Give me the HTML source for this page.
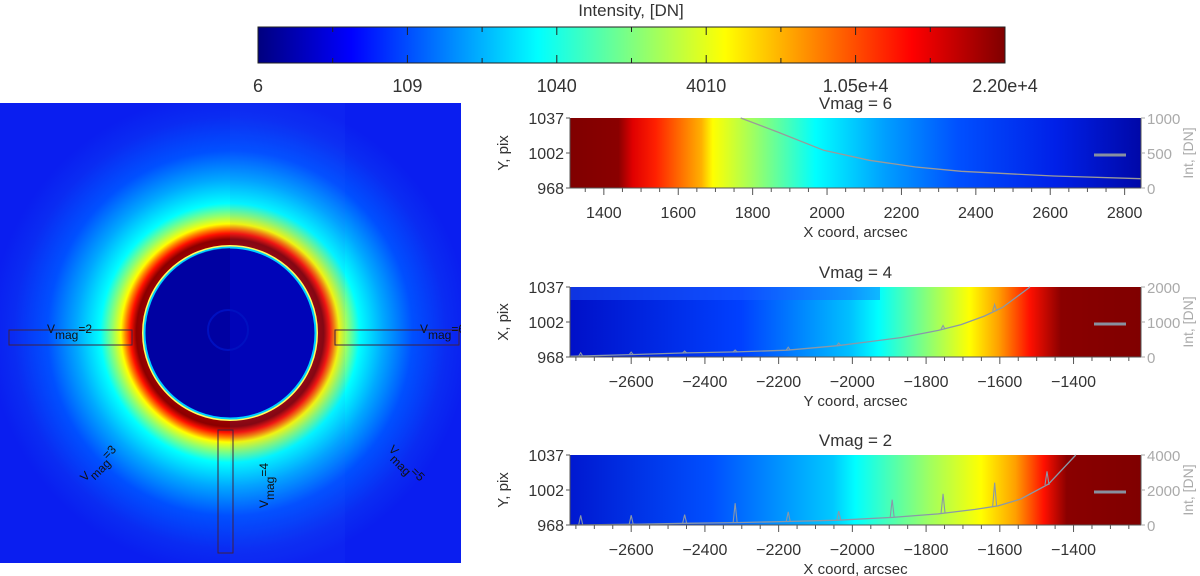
<!DOCTYPE html>
<html><head><meta charset="utf-8"><style>
html,body{margin:0;padding:0;background:#fff;}
svg{display:block;font-family:"Liberation Sans",sans-serif;}
</style></head><body>
<svg id="fig" width="1200" height="576" viewBox="0 0 1200 576">
<defs>
<linearGradient id="jet" x1="0" x2="1" y1="0" y2="0">
<stop offset="0" stop-color="#00007f"/><stop offset="0.125" stop-color="#0000ff"/><stop offset="0.375" stop-color="#00ffff"/><stop offset="0.625" stop-color="#ffff00"/><stop offset="0.875" stop-color="#ff0000"/><stop offset="1" stop-color="#7f0000"/>
</linearGradient>
<linearGradient id="g1" gradientUnits="userSpaceOnUse" x1="570" x2="1141" y1="0" y2="0">
<stop offset="0" stop-color="#800000"/><stop offset="0.085" stop-color="#8a0000"/><stop offset="0.11" stop-color="#e00000"/><stop offset="0.15" stop-color="#ff2000"/><stop offset="0.23" stop-color="#ffb000"/><stop offset="0.25" stop-color="#ffff00"/><stop offset="0.32" stop-color="#a0ff60"/><stop offset="0.43" stop-color="#00ffff"/><stop offset="0.55" stop-color="#00a0ff"/><stop offset="0.68" stop-color="#0050ff"/><stop offset="0.85" stop-color="#0020e8"/><stop offset="1" stop-color="#0008a8"/>
</linearGradient>
<linearGradient id="g2" gradientUnits="userSpaceOnUse" x1="570" x2="1141" y1="0" y2="0">
<stop offset="0" stop-color="#0010c8"/><stop offset="0.3" stop-color="#0040ff"/><stop offset="0.49" stop-color="#00c0ff"/><stop offset="0.54" stop-color="#00ffff"/><stop offset="0.64" stop-color="#a0ff60"/><stop offset="0.70" stop-color="#ffff00"/><stop offset="0.75" stop-color="#ffa000"/><stop offset="0.805" stop-color="#ff1000"/><stop offset="0.86" stop-color="#8a0000"/><stop offset="1" stop-color="#800000"/>
</linearGradient>
<linearGradient id="g3" gradientUnits="userSpaceOnUse" x1="570" x2="1141" y1="0" y2="0">
<stop offset="0" stop-color="#0018d0"/><stop offset="0.25" stop-color="#0050ff"/><stop offset="0.46" stop-color="#00c8ff"/><stop offset="0.5" stop-color="#00ffff"/><stop offset="0.63" stop-color="#a0ff60"/><stop offset="0.72" stop-color="#ffff00"/><stop offset="0.78" stop-color="#ffa000"/><stop offset="0.83" stop-color="#ff1000"/><stop offset="0.87" stop-color="#8a0000"/><stop offset="1" stop-color="#800000"/>
</linearGradient>
<radialGradient id="corona" gradientUnits="userSpaceOnUse" cx="230" cy="333" r="240">
<stop offset="0" stop-color="#0000a0"/><stop offset="0.355" stop-color="#a00000"/><stop offset="0.39" stop-color="#8a0000"/><stop offset="0.415" stop-color="#ff1000"/><stop offset="0.435" stop-color="#ff8000"/><stop offset="0.455" stop-color="#ffff00"/><stop offset="0.49" stop-color="#90ff70"/><stop offset="0.54" stop-color="#00ffff"/><stop offset="0.64" stop-color="#00a8ff"/><stop offset="0.76" stop-color="#0050ff"/><stop offset="0.9" stop-color="#0a2cf2"/><stop offset="1" stop-color="#0a1ef0"/>
</radialGradient>
<clipPath id="imgclip"><rect x="0" y="103" width="461" height="460"/></clipPath>
</defs>

<g>
<text x="631" y="16" text-anchor="middle" font-size="17" fill="#333">Intensity, [DN]</text>
<rect x="258" y="27" width="747" height="36" fill="url(#jet)" stroke="#222" stroke-width="1"/>
<g id="cbticks"></g>
</g>

<g clip-path="url(#imgclip)">
<rect x="0" y="103" width="461" height="460" fill="url(#corona)"/>
<rect x="230" y="103" width="115" height="460" fill="#3060ff" opacity="0.08"/>
<circle cx="230" cy="333" r="87" fill="none" stroke="#ffff60" stroke-width="2"/>
<circle cx="230" cy="333" r="85.5" fill="#0004b8" stroke="#00d0ff" stroke-width="2"/>
<path d="M230,248 A84,84 0 0 0 230,417 Z" fill="#000090" opacity="0.55"/>
<circle cx="228" cy="330" r="20" fill="none" stroke="#0010c0" stroke-width="2"/>
<rect x="9" y="330" width="123" height="15" fill="none" stroke="#402040" stroke-width="1"/>
<rect x="335" y="330" width="124" height="15" fill="none" stroke="#402040" stroke-width="1"/>
<rect x="218" y="430" width="15" height="123" fill="none" stroke="#402040" stroke-width="1"/>
<g font-size="12" fill="#111">
<text x="47" y="333">V<tspan dy="6" font-size="12">mag</tspan><tspan dy="-6">=2</tspan></text>
<text x="420" y="333">V<tspan dy="6">mag</tspan><tspan dy="-6">=6</tspan></text>
<text transform="translate(85,482) rotate(-45)">V<tspan dy="6">mag</tspan><tspan dy="-6">=3</tspan></text>
<text transform="translate(268,508) rotate(-90)">V<tspan dy="6">mag</tspan><tspan dy="-6">=4</tspan></text>
<text transform="translate(388,450) rotate(45)">V<tspan dy="6">mag</tspan><tspan dy="-6">=5</tspan></text>
</g>
</g>

<g id="panels"></g>
</svg>
<script>
const cbLabels = ["6","109","1040","4010","1.05e+4","2.20e+4"];

const p1X = [1768,1867,1991,2114,2238,2361,2485,2609,2843];
const p1Y = [1000,800,538,395,300,238,205,171,133];
const p1Ticks = [1400,1600,1800,2000,2200,2400,2600,2800];
const p2X = [-2765,-2600,-2451,-2314,-2177,-2040,-1953,-1866,-1767,-1705,-1642,-1593,-1518];
const p2Y = [20,68,117,146,195,322,439,556,761,927,1170,1415,2000];
const p2SpikeX = [-2737,-2600,-2455,-2318,-2174,-2037,-1754,-1614];
const p2SpikeY = [120,140,170,200,280,400,900,1500];
const p2Ticks = [-2600,-2400,-2200,-2000,-1800,-1600,-1400];
const p3X = [-2765,-2600,-2451,-2314,-2177,-2040,-1891,-1767,-1667,-1605,-1543,-1468,-1394];
const p3Y = [0,40,99,139,198,277,436,634,891,1089,1485,2337,4000];
const p3SpikeX = [-2737,-2600,-2455,-2318,-2174,-2037,-1892,-1754,-1614,-1472];
const p3SpikeY = [554,554,594,1248,752,792,1446,1782,2416,3069];
const p3Ticks = [-2600,-2400,-2200,-2000,-1800,-1600,-1400];
const yPixTicks = ["1037","1002","968"];

const NS = "http://www.w3.org/2000/svg";
function mk(tag, attrs, parent){const e=document.createElementNS(NS,tag);for(const k in attrs)e.setAttribute(k,attrs[k]);parent.appendChild(e);return e;}

const cbg = document.getElementById('cbticks');
cbLabels.forEach((l,i)=>{
  const x = 258 + i*747/(cbLabels.length-1);
  const t = mk('text',{x:x,y:92,'text-anchor':'middle','font-size':18,fill:'#333'},cbg);
  
  
  t.textContent = l;
});
for(let i=0;i<=10;i++){
  const x = 258 + i*747/10;
  const len = i%2===0 ? 8 : 5;
  const a = mk('line',{x1:x,x2:x,y1:27,y2:27+len,stroke:'#222'},cbg);
  
  
  const b = mk('line',{x1:x,x2:x,y1:63,y2:63-len,stroke:'#222'},cbg);
  
  
}

const panels = document.getElementById('panels');
function drawPanel(o){
  const L=570,R=1141,T=o.top,B=o.top+70;
  const g = mk('g',{},panels);
  
  
  const sx = v => L + (v - o.xmin)/(o.xmax-o.xmin)*(R-L);
  const sy = v => B - v/o.ymax*(B-T);
  const t = mk('text',{x:(L+R)/2,y:T-9,'text-anchor':'middle','font-size':17,fill:'#333'},g);
  
  
  t.textContent = o.title;
  const r = mk('rect',{x:L,y:T,width:R-L,height:B-T,fill:o.fill},g);
  
  
  if(o.band){
    const b = mk('rect',{x:L,y:T,width:310,height:13,fill:'#2060ff',opacity:0.45},g);
    
    
  }
  let d='';
  o.xs.forEach((x,i)=>{d+=(i?'L':'M')+sx(x).toFixed(1)+','+Math.max(T,sy(o.ys[i])).toFixed(1);});
  const p = mk('path',{d:d,fill:'none',stroke:o.lc,'stroke-width':1.3},g);
  
  
  if(o.spx){
    o.spx.forEach((x,i)=>{
      let base=0;
      for(let k=1;k<o.xs.length;k++){ if(x<=o.xs[k]){const f=(x-o.xs[k-1])/(o.xs[k]-o.xs[k-1]); base=o.ys[k-1]+f*(o.ys[k]-o.ys[k-1]); break;} }
      const px=sx(x);
      const s = mk('path',{d:`M${px-2},${sy(base)} L${px},${sy(o.spy[i])} L${px+2},${sy(base)}`,fill:'none',stroke:o.lc,'stroke-width':1.1},g);
      
      
    });
  }
  const leg = mk('line',{x1:1094,x2:1126,y1:(T+B)/2+2,y2:(T+B)/2+2,stroke:'#8890a0','stroke-width':3},g);
  
  
  const ax = mk('path',{d:`M${L},${T} L${L},${B} L${R},${B} L${R},${T}`,fill:'none',stroke:'#555','stroke-width':1},g);
  
  
  const step=(o.ticks[1]-o.ticks[0])/4;
  for(let v=o.ticks[0]-step*4; v<=o.xmax; v+=step){
    if(v<o.xmin) continue;
    const major = o.ticks.includes(Math.round(v));
    const tk = mk('line',{x1:sx(v),x2:sx(v),y1:B,y2:B+(major?7:4),stroke:'#555'},g);
    
    
  }
  o.ticks.forEach(v=>{
    const tl = mk('text',{x:sx(v),y:B+30,'text-anchor':'middle','font-size':16,fill:'#333'},g);
    
    
    tl.textContent = String(v).replace('-','\u2212');
  });
  const xt = mk('text',{x:(L+R)/2,y:B+49,'text-anchor':'middle','font-size':15,fill:'#333'},g);
  
  
  xt.textContent = o.xtitle;
  yPixTicks.forEach((l,i)=>{
    const y = T + i*(B-T)/2;
    const tl = mk('text',{x:L-6,y:y+6,'text-anchor':'end','font-size':16,fill:'#333'},g);
    
    
    tl.textContent = l;
    const tk = mk('line',{x1:L-4,x2:L,y1:y,y2:y,stroke:'#555'},g);
    
    
  });
  const yt = mk('text',{transform:`translate(${L-62},${(T+B)/2}) rotate(-90)`,'text-anchor':'middle','font-size':15,fill:'#333'},g);
  
  
  yt.textContent = o.ytitle;
  [0,o.ymax/2,o.ymax].forEach(v=>{
    const tl = mk('text',{x:R+6,y:sy(v)+6,'font-size':15,fill:'#aaa'},g);
    
    
    tl.textContent = v;
    const tk = mk('line',{x1:R,x2:R+4,y1:sy(v),y2:sy(v),stroke:'#aaa'},g);
    
    
  });
  const rt = mk('text',{transform:`translate(${R+52},${(T+B)/2}) rotate(-90)`,'text-anchor':'middle','font-size':14,fill:'#aaa'},g);
  
  
  rt.textContent = 'Int, [DN]';
}

drawPanel({name:'panel-vmag-6',title:'Vmag = 6',top:118,xmin:1309,xmax:2844,ymax:1000,xs:p1X,ys:p1Y,ticks:p1Ticks,fill:'url(#g1)',lc:'#9a9a9a',xtitle:'X coord, arcsec',ytitle:'Y, pix'});
drawPanel({name:'panel-vmag-4',title:'Vmag = 4',top:287,xmin:-2766,xmax:-1217,ymax:2000,xs:p2X,ys:p2Y,spx:p2SpikeX,spy:p2SpikeY,ticks:p2Ticks,fill:'url(#g2)',lc:'#8a98a8',xtitle:'Y coord, arcsec',ytitle:'X, pix',band:true});
drawPanel({name:'panel-vmag-2',title:'Vmag = 2',top:455,xmin:-2766,xmax:-1217,ymax:4000,xs:p3X,ys:p3Y,spx:p3SpikeX,spy:p3SpikeY,ticks:p3Ticks,fill:'url(#g3)',lc:'#8a98a8',xtitle:'X coord, arcsec',ytitle:'Y, pix'});
</script>
</body></html>
